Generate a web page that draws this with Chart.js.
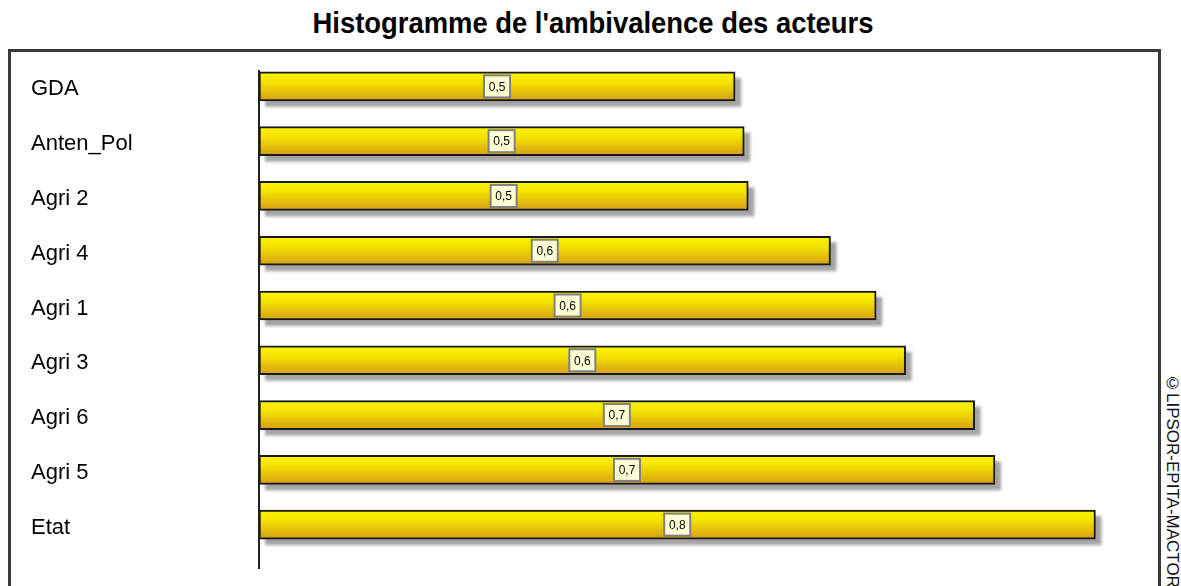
<!DOCTYPE html>
<html>
<head>
<meta charset="utf-8">
<script src="https://cdn.jsdelivr.net/npm/chart.js@4"></script>
<style>
  html, body { margin: 0; padding: 0; background: #fff; }
  body { width: 1181px; height: 586px; position: relative; overflow: hidden; font-family: "Liberation Sans", Arial, sans-serif; }
  #titre { position: absolute; left: 0; width: 1186px; top: 7px; text-align: center; font-size: 29px; font-weight: bold; color: #000; transform: scaleX(0.945); transform-origin: 593px 0; }
  #cadre { position: absolute; left: 8px; top: 49px; width: 1153px; height: 600px; border: 3px solid #3a3a3a; box-sizing: border-box; }
  #copy { position: absolute; left: 1162px; top: 374px; writing-mode: vertical-rl; font-size: 17px; color: #111; white-space: nowrap; }
  #zone { position: absolute; left: 0; top: 0; width: 1181px; height: 586px; }
</style>
</head>
<body>
<div id="titre">Histogramme de l'ambivalence des acteurs</div>
<div id="cadre"></div>
<div id="copy">©LIPSOR-EPITA-MACTOR</div>
<div id="zone"><canvas id="graphique"></canvas></div>
<script>
const acteurs = ['GDA', 'Anten_Pol', 'Agri 2', 'Agri 4', 'Agri 1', 'Agri 3', 'Agri 6', 'Agri 5', 'Etat'];
const ambivalence = [0.469, 0.478, 0.482, 0.563, 0.608, 0.637, 0.705, 0.725, 0.824];
const maxEchelle = 0.86;

const ctx = document.getElementById('graphique');

function degrade(context) {
    const chart = context.chart;
    if (!chart.chartArea || context.dataIndex === undefined) return '#f0d000';
    const y = chart.scales.y.getPixelForValue(context.dataIndex);
    const g = chart.ctx.createLinearGradient(0, y - 14, 0, y + 14);
    g.addColorStop(0, '#fcf500');
    g.addColorStop(0.35, '#f4e300');
    g.addColorStop(1, '#d59f16');
    return g;
}

// ligne d'axe, ombres des barres et étiquettes de valeur
const decor = {
    id: 'decor',
    beforeDatasetsDraw(chart) {
        const c = chart.ctx;
        const x0 = chart.scales.x.getPixelForValue(0);
        c.save();
        c.strokeStyle = '#222';
        c.lineWidth = 2;
        c.beginPath();
        c.moveTo(x0, chart.chartArea.top + 11);
        c.lineTo(x0, chart.chartArea.bottom + 17);
        c.stroke();

        c.fillStyle = 'rgba(90,90,90,0.55)';
        c.filter = 'blur(1.5px)';
        chart.getDatasetMeta(0).data.forEach(bar => {
            const h = bar.height;
            c.fillRect(bar.base + 6, bar.y - h / 2 + 6, bar.x - bar.base, h);
        });
        c.restore();
    },
    afterDatasetsDraw(chart) {
        const c = chart.ctx;
        const meta = chart.getDatasetMeta(0);
        c.save();
        c.font = '12px "Liberation Sans", Arial, sans-serif';
        c.textAlign = 'center';
        c.textBaseline = 'middle';
        meta.data.forEach((bar, i) => {
            const cx = (bar.x + bar.base) / 2;
            const texte = ambivalence[i].toFixed(1).replace('.', ',');
            c.fillStyle = '#ffffd6';
            c.fillRect(cx - 13, bar.y - 11, 26, 22);
            c.strokeStyle = '#808080';
            c.lineWidth = 2;
            c.strokeRect(cx - 13, bar.y - 11, 26, 22);
            c.fillStyle = '#000';
            c.fillText(texte, cx, bar.y + 1);
        });
        c.restore();
    }
};

new Chart(ctx, {
    type: 'bar',
    data: {
        labels: acteurs,
        datasets: [{
            data: ambivalence,
            backgroundColor: degrade,
            borderColor: '#1a1a1a',
            borderWidth: 2,
            borderSkipped: false,
            barThickness: 29
        }]
    },
    options: {
        indexAxis: 'y',
        responsive: true,
        maintainAspectRatio: false,
        animation: false,
        layout: {
            padding: { left: 31, right: 49, top: 59, bottom: 34 }
        },
        plugins: {
            legend: { display: false },
            tooltip: { enabled: false }
        },
        scales: {
            x: {
                display: false,
                min: 0,
                max: maxEchelle
            },
            y: {
                grid: { display: false },
                border: { display: false },
                afterFit(scale) { scale.width = 228; },
                ticks: {
                    crossAlign: 'far',
                    labelOffset: 3,
                    color: '#000',
                    font: { family: '"Liberation Sans", Arial, sans-serif', size: 22 }
                }
            }
        }
    },
    plugins: [decor]
});
</script>
</body>
</html>
